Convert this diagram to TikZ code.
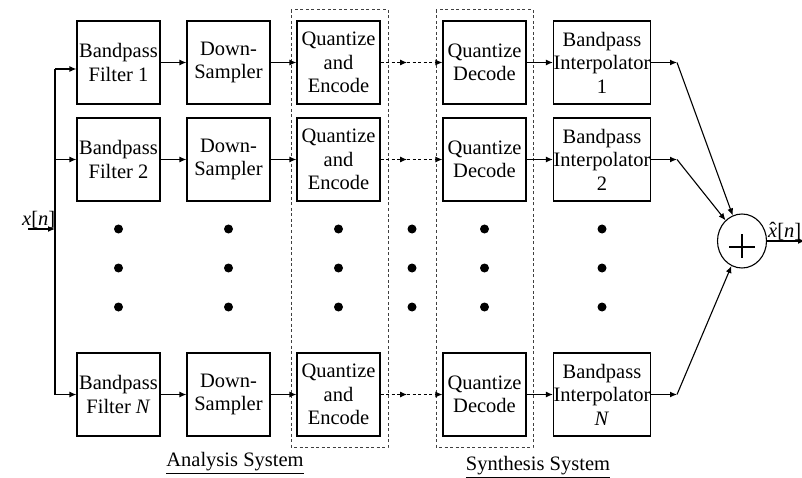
\documentclass[tikz,border=0pt]{standalone}
\usepackage{fontspec}
\setmainfont{Liberation Serif}
\usetikzlibrary{arrows.meta,shapes.geometric}
\newcommand{\xhatsym}{\ooalign{\textit{x}\cr\hfil\raisebox{0.02em}{\char"02C6}\hfil\cr}}
\begin{document}
\begin{tikzpicture}[x=1pt,y=-1pt,
  every node/.style={font=\fontsize{20.5}{23.5}\selectfont},
  blk/.style={draw,line width=1.2pt,minimum width=83pt,minimum height=83pt,inner sep=0pt,align=center},
  wblk/.style={blk,minimum width=97pt},
  arr/.style={line width=1.2pt,-{Latex[length=7pt,width=6pt]}},
  plain/.style={line width=1.2pt},
  dsh/.style={line width=1pt,dash pattern=on 3pt off 2.5pt,draw=black!75},
  dot/.style={circle,fill=black,inner sep=0pt,minimum size=9pt}]
\useasboundingbox (0,0) rectangle (802,478);

% dashed groups
\draw[dsh] (291,10) rectangle (388,447);
\draw[dsh] (436,10) rectangle (533,447);

% row 1
\node[blk] (f1) at (118.5,62.5) {Bandpass\\Filter 1};
\node[blk] (s1) at (228.5,62.5) {Down-\\Sampler};
\node[blk] (q1) at (338.5,62.5) {Quantize\\and\\Encode};
\node[blk] (d1) at (484.5,62.5) {Quantize\\Decode};
\node[wblk] (i1) at (602,62.5) {Bandpass\\Interpolator\\1};
% row 2
\node[blk] (f2) at (118.5,159.5) {Bandpass\\Filter 2};
\node[blk] (s2) at (228.5,159.5) {Down-\\Sampler};
\node[blk] (q2) at (338.5,159.5) {Quantize\\and\\Encode};
\node[blk] (d2) at (484.5,159.5) {Quantize\\Decode};
\node[wblk] (i2) at (602,159.5) {Bandpass\\Interpolator\\2};
% row N
\node[blk] (f3) at (118.5,394.5) {Bandpass\\Filter \textit{N}};
\node[blk] (s3) at (228.5,394.5) {Down-\\Sampler};
\node[blk] (q3) at (338.5,394.5) {Quantize\\and\\Encode};
\node[blk] (d3) at (484.5,394.5) {Quantize\\Decode};
\node[wblk] (i3) at (602,394.5) {Bandpass\\Interpolator\\\textit{N}};

% dots
\foreach \x/\n in {118.5/a,228.5/b,338.5/c,412/d,484.5/e,602/f}{
  \foreach \y/\m in {229/1,268/2,307/3}{
    \node[dot] (dot\n\m) at (\x,\y) {};
  }
}

% input bus
\coordinate (in) at (28,229);
\coordinate (bin) at (55,229);
\coordinate (b1) at (55,69);
\coordinate (b2) at (55,159.5);
\coordinate (b3) at (55,394.5);
\node[anchor=south west,inner sep=0pt] (xlab) at (22,228) {\textit{x}[\textit{n}]};
\draw[arr] (in) -- (bin);
\draw[plain] (b1) -- (b3);
\draw[arr] (b1) -- (f1.west |- b1);
\draw[arr] (b2) -- (f2.west);
\draw[arr] (b3) -- (f3.west);

% chain arrows
\coordinate (m1) at (407,62.5);
\coordinate (m2) at (407,159.5);
\coordinate (m3) at (407,394.5);
\foreach \r in {1,2,3}{
  \draw[arr] (f\r.east) -- (s\r.west);
  \draw[arr] (s\r.east) -- (q\r.west);
  \draw[arr] (d\r.east) -- (i\r.west);
  \draw[dsh,draw=black,-{Latex[length=7pt,width=6pt]}] (q\r.east) -- (m\r);
  \draw[dsh,draw=black,-{Latex[length=7pt,width=6pt]}] (m\r) -- (d\r.west);
}

% summer
\node[ellipse,draw,line width=1.1pt,minimum width=49pt,minimum height=54pt,inner sep=0pt] (sum) at (742,241) {};
\draw[line width=2pt] (729,246.5) -- (755,246.5);
\draw[line width=2pt] (742,234) -- (742,258);

\coordinate (j1) at (677,62.5);
\coordinate (j2) at (677,159.5);
\coordinate (j3) at (677,394.5);
\foreach \r in {1,2,3}{
  \draw[arr] (i\r.east) -- (j\r);
  \draw[line width=1.1pt,-{Latex[length=7pt,width=6pt]}] (j\r) -- (sum);
}
\coordinate (out) at (805,241);
\draw[arr] (sum) -- (out);
\node[anchor=south west,inner sep=0pt] (ylab) at (768,240) {\xhatsym[\textit{n}]};

% captions
\node (ana) at (235,463) {\underline{Analysis System}};
\node (syn) at (538,467) {\underline{Synthesis System}};
\end{tikzpicture}
\end{document}
